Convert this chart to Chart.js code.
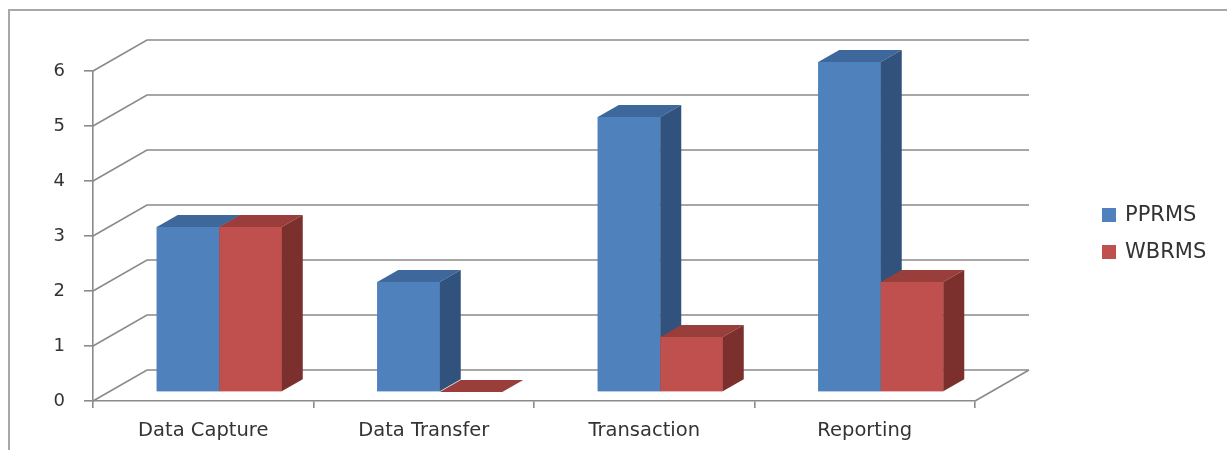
<!DOCTYPE html>
<html>
<head>
<meta charset="utf-8">
<script src="https://cdn.jsdelivr.net/npm/chart.js@4.4.1/dist/chart.umd.min.js"></script>
<style>
    html, body { margin: 0; padding: 0; background: #fff; }
    #chart { display: block; }
</style>
</head>
<body>
<canvas id="chart" width="1227" height="450"></canvas>
<script>
const categories = ['Data Capture', 'Data Transfer', 'Transaction', 'Reporting'];
const pprmsValues = [3, 2, 5, 6];
const wbrmsValues = [3, 0, 1, 2];
const seriesNames = ['PPRMS', 'WBRMS'];

// front / top / side colours of each series
const faceColors = [
    { front: '#4F81BD', top: '#3E679B', side: '#30527C' },
    { front: '#C0504D', top: '#9A3E3C', side: '#7C302E' }
];
const gridColor = '#8A8A8A';
const textColor = '#333333';

// oblique depth of the floor, position of the bars inside it, bar thickness
const depthX = 54, depthY = -31;
const shiftX = 16, shiftY = -9;
const barDX = 21, barDY = -12;

const box3d = {
    id: 'box3d',
    beforeDraw(chart) {
        const ctx = chart.ctx;
        ctx.save();
        ctx.fillStyle = '#fff';
        ctx.fillRect(0, 0, chart.width, chart.height);
        ctx.strokeStyle = '#A8A8A8';
        ctx.lineWidth = 2;
        ctx.beginPath();
        ctx.moveTo(9, chart.height);
        ctx.lineTo(9, 10);
        ctx.lineTo(chart.width, 10);
        ctx.stroke();
        ctx.restore();
    },
    beforeDatasetsDraw(chart) {
        const ctx = chart.ctx;
        const area = chart.chartArea;
        const yScale = chart.scales.y;
        ctx.save();
        ctx.strokeStyle = gridColor;
        ctx.lineWidth = 1.6;
        ctx.beginPath();
        yScale.ticks.forEach(t => {
            const y = yScale.getPixelForValue(t.value);
            ctx.moveTo(area.left, y);
            ctx.lineTo(area.left + depthX, y + depthY);
            ctx.lineTo(area.right + depthX, y + depthY);
        });
        ctx.moveTo(area.right, area.bottom);
        ctx.lineTo(area.right + depthX, area.bottom + depthY);
        ctx.stroke();
        ctx.restore();
        // bars stand part way into the floor
        ctx.save();
        ctx.translate(shiftX, shiftY);
    },
    afterDatasetsDraw(chart) {
        const ctx = chart.ctx;
        const metas = chart.data.datasets.map((d, i) => chart.getDatasetMeta(i));
        for (let c = 0; c < chart.data.labels.length; c++) {
            metas.forEach((meta, d) => {
                const bar = meta.data[c];
                const col = faceColors[d];
                const l = bar.x - bar.width / 2, r = bar.x + bar.width / 2;
                const t = bar.y, b = bar.base;
                ctx.fillStyle = col.front;
                ctx.fillRect(l, t, r - l, b - t);
                ctx.fillStyle = col.top;
                ctx.beginPath();
                ctx.moveTo(l, t);
                ctx.lineTo(l + barDX, t + barDY);
                ctx.lineTo(r + barDX, t + barDY);
                ctx.lineTo(r, t);
                ctx.closePath();
                ctx.fill();
                ctx.fillStyle = col.side;
                ctx.beginPath();
                ctx.moveTo(r, t);
                ctx.lineTo(r + barDX, t + barDY);
                ctx.lineTo(r + barDX, b + barDY);
                ctx.lineTo(r, b);
                ctx.closePath();
                ctx.fill();
            });
        }
        ctx.restore();
    },
    afterDraw(chart) {
        const ctx = chart.ctx;
        const area = chart.chartArea;
        const x = area.right + 127;
        const midY = (area.top + area.bottom) / 2;
        const rows = [midY - 21, midY + 16];
        ctx.save();
        ctx.font = '21px "DejaVu Sans"';
        ctx.textBaseline = 'middle';
        chart.data.datasets.forEach((ds, i) => {
            ctx.fillStyle = faceColors[i].front;
            ctx.fillRect(x, rows[i] - 7, 14, 14);
            ctx.fillStyle = textColor;
            ctx.fillText(ds.label, x + 23, rows[i] + 1);
        });
        ctx.restore();
    }
};

const ctx = document.getElementById('chart').getContext('2d');
const chart = new Chart(ctx, {
    type: 'bar',
    data: {
        labels: categories,
        datasets: [{
            label: seriesNames[0],
            data: pprmsValues,
            backgroundColor: faceColors[0].front
        }, {
            label: seriesNames[1],
            data: wbrmsValues,
            backgroundColor: faceColors[1].front
        }]
    },
    options: {
        responsive: false,
        animation: false,
        devicePixelRatio: 1,
        categoryPercentage: 0.567,
        barPercentage: 1,
        layout: {
            padding: { top: 71, right: 252, left: 0, bottom: 0 }
        },
        scales: {
            y: {
                min: 0,
                max: 6,
                afterFit: scale => { scale.width = 93; },
                border: { display: true, color: gridColor, width: 1.6 },
                grid: {
                    drawOnChartArea: false,
                    drawTicks: true,
                    tickLength: 9,
                    color: gridColor,
                    lineWidth: 1.6
                },
                ticks: {
                    stepSize: 1,
                    padding: 19,
                    color: textColor,
                    font: { family: 'DejaVu Sans', size: 18 }
                }
            },
            x: {
                afterFit: scale => { scale.height = 49; },
                border: { display: true, color: gridColor, width: 1.6 },
                grid: {
                    offset: true,
                    drawOnChartArea: false,
                    drawTicks: true,
                    tickLength: 7,
                    color: gridColor,
                    lineWidth: 1.6
                },
                ticks: {
                    padding: 11,
                    color: textColor,
                    maxRotation: 0,
                    font: { family: 'DejaVu Sans', size: 19.5 }
                }
            }
        },
        plugins: {
            legend: { display: false },
            tooltip: { enabled: false }
        }
    },
    plugins: [box3d]
});
</script>
</body>
</html>
